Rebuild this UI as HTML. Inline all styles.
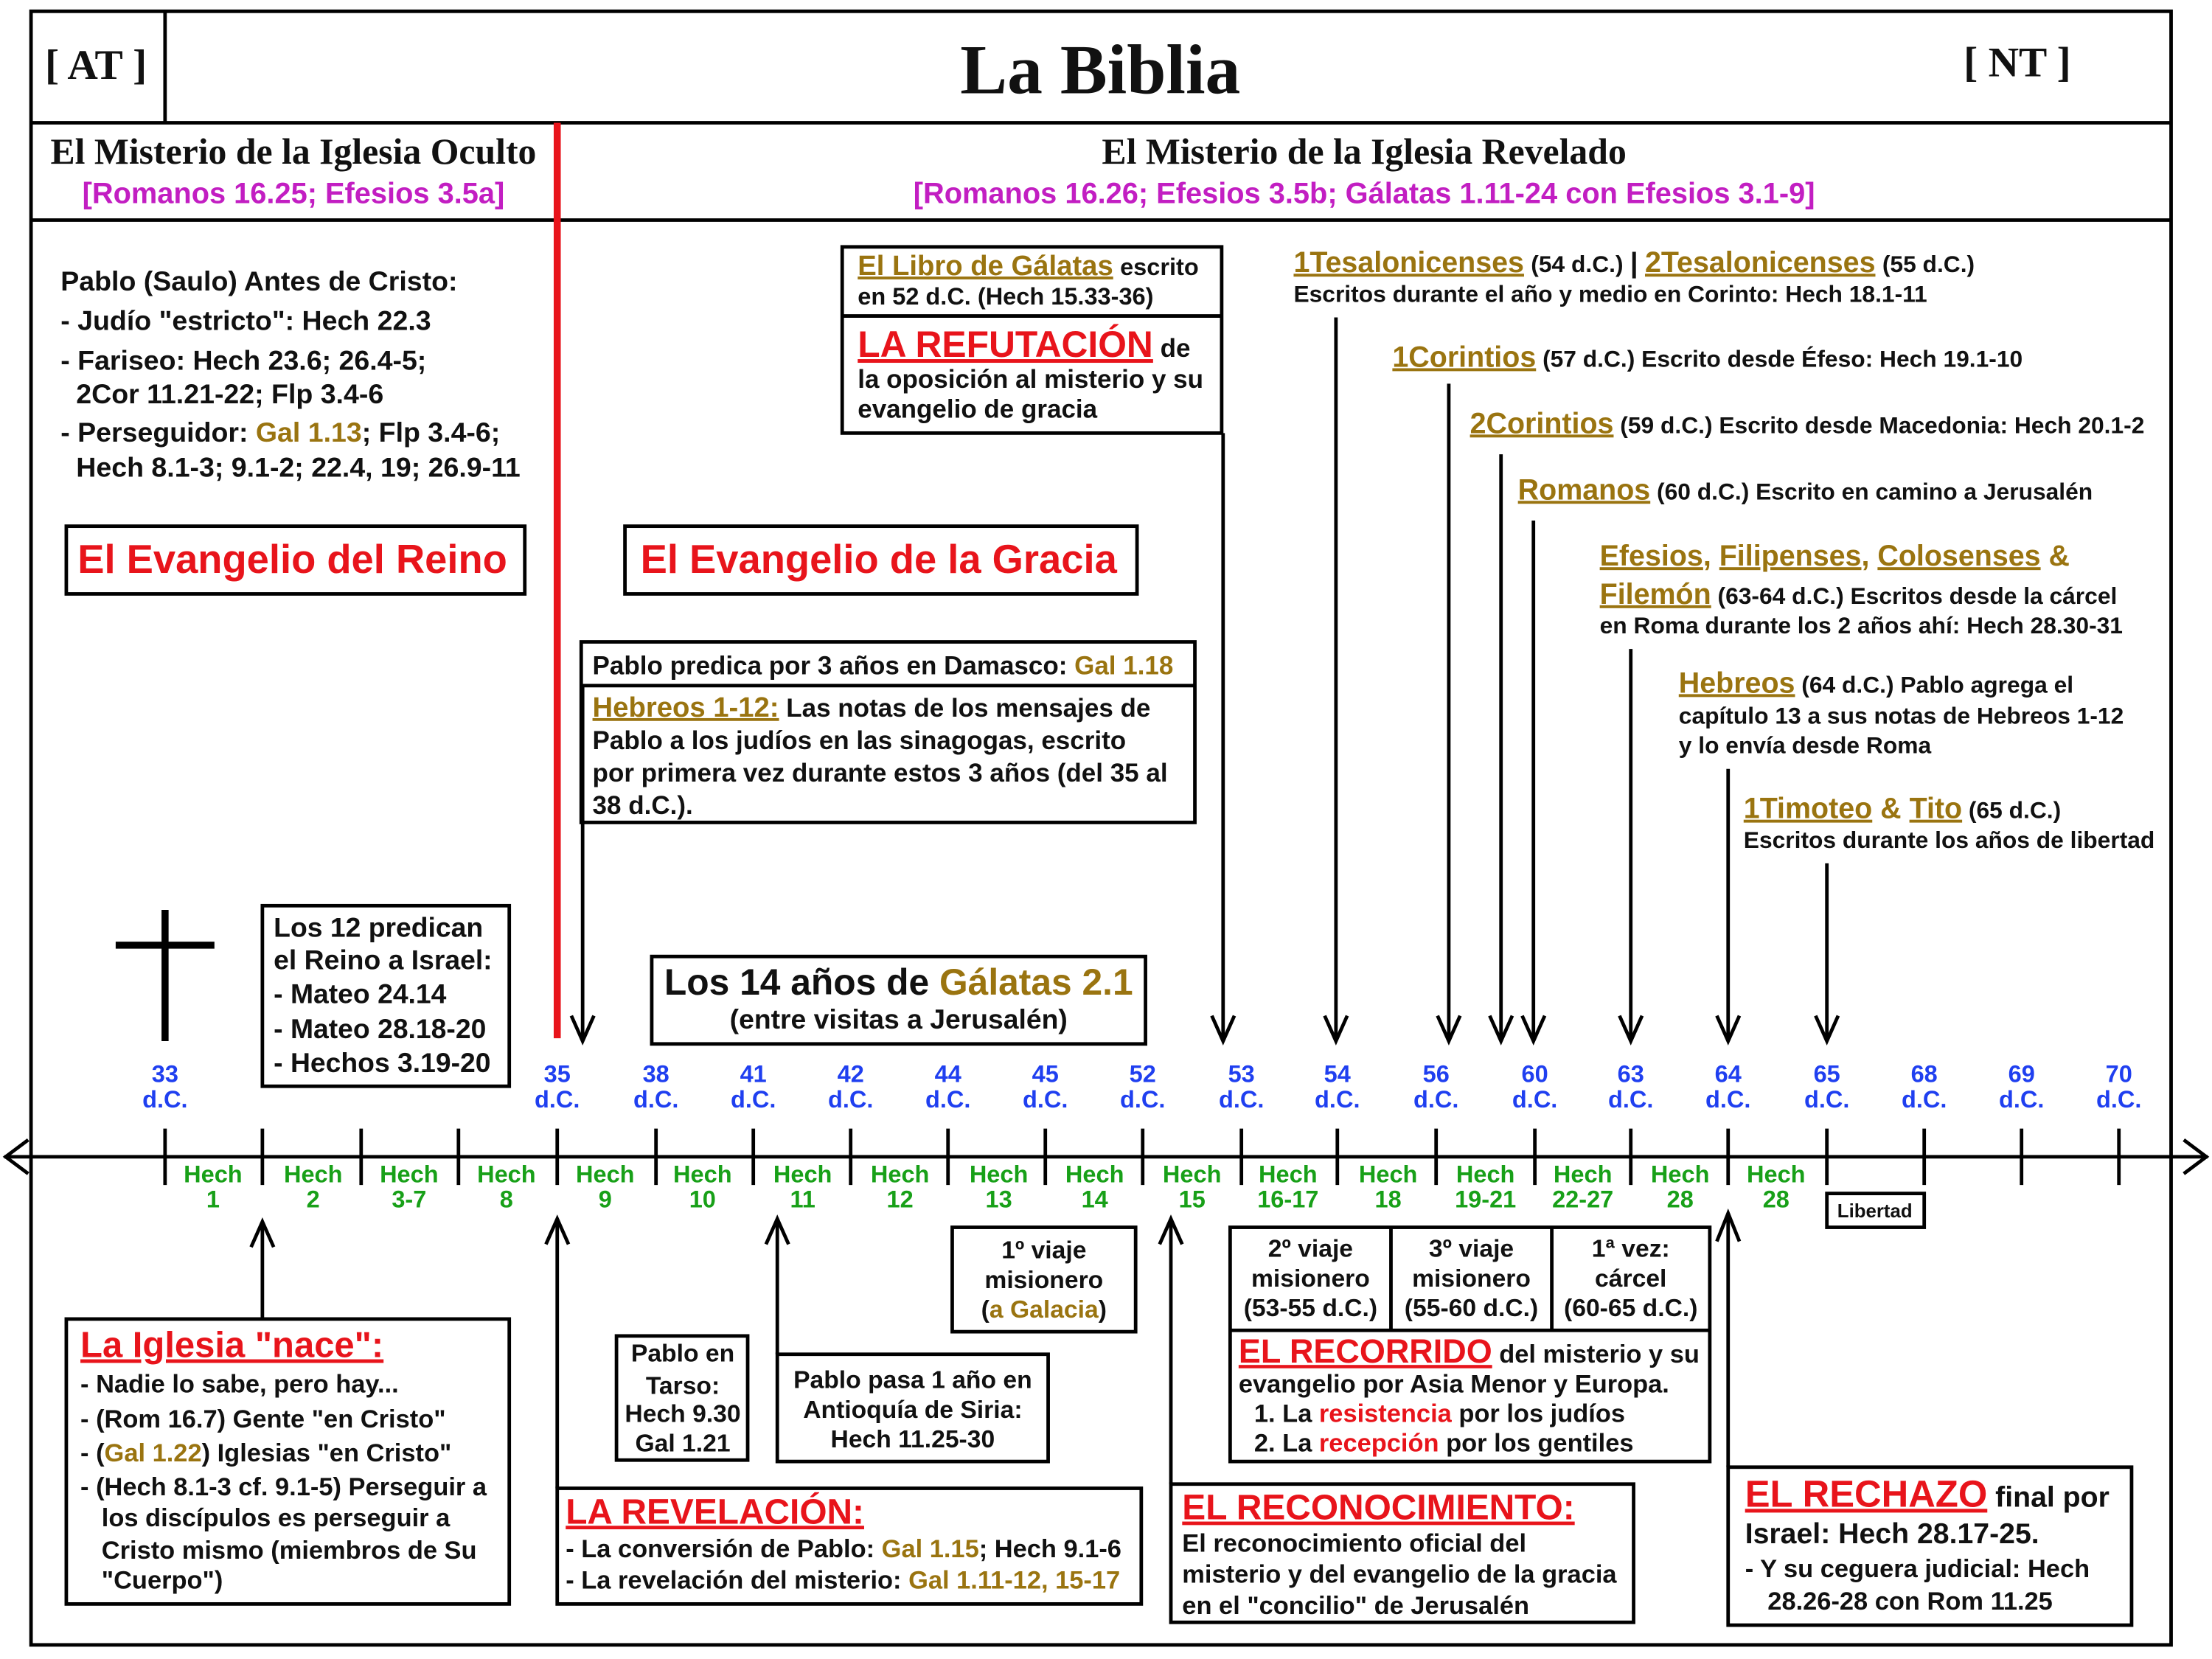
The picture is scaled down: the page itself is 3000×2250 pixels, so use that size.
<!DOCTYPE html>
<html><head><meta charset="utf-8"><style>
html,body{margin:0;padding:0;background:#fff;}
svg{display:block;}
text{font-family:"Liberation Sans",sans-serif;font-weight:bold;font-size:17.6px;fill:#111;}
.s{font-family:"Liberation Serif",serif;}
.r{fill:#e8141b;}.g{fill:#9a7410;}.m{fill:#c21ec2;}.b{fill:#1f3ff0;}.gr{fill:#18a018;}
.u{text-decoration:underline;}
.c{text-anchor:middle;}
.y{font-size:17px;}
.rt{font-size:16.6px;}
.rh{font-size:20.6px;}
.bx{font-size:18.3px;}
</style></head><body>
<svg width="3000" height="2250" viewBox="0 0 1568 1176" preserveAspectRatio="none" xmlns="http://www.w3.org/2000/svg">
<g fill="none" stroke="#000" stroke-width="2.5">
<rect x="22" y="8" width="1517" height="1158"/>
<line x1="117" y1="8" x2="117" y2="87"/>
<line x1="22" y1="87" x2="1539" y2="87"/>
<line x1="22" y1="156" x2="1539" y2="156"/>
<rect x="47" y="373" width="325" height="48"/>
<rect x="443" y="373" width="363" height="48"/>
<rect x="597" y="175" width="269" height="132"/>
<line x1="597" y1="224" x2="866" y2="224"/>
<rect x="412" y="455" width="435" height="128"/>
<line x1="412" y1="486" x2="847" y2="486"/>
<rect x="462" y="678" width="350" height="62"/>
<rect x="186" y="642" width="175" height="128"/>
<rect x="47" y="935" width="314" height="202"/>
<rect x="437" y="947" width="93" height="88"/>
<rect x="551" y="960" width="192" height="76"/>
<rect x="675" y="870" width="130" height="74"/>
<rect x="395" y="1055" width="414" height="82"/>
<rect x="830" y="1052" width="328" height="98"/>
<rect x="872" y="870" width="340" height="166"/>
<line x1="986" y1="870" x2="986" y2="943"/>
<line x1="1100" y1="870" x2="1100" y2="943"/>
<line x1="872" y1="943" x2="1212" y2="943"/>
<rect x="1225" y="1040" width="286" height="112"/>
<rect x="1295" y="846" width="69" height="24"/>
<line x1="3" y1="820" x2="1565" y2="820"/>
<polyline points="20,808 4,820 20,832"/>
<polyline points="1548,808 1564,820 1548,832"/>
<line x1="413" y1="486" x2="413" y2="738"/><polyline points="405,720 413,738 421,720"/>
<line x1="867" y1="307" x2="867" y2="738"/><polyline points="859,720 867,738 875,720"/>
<line x1="947" y1="225" x2="947" y2="738"/><polyline points="939,720 947,738 955,720"/>
<line x1="1027" y1="272" x2="1027" y2="738"/><polyline points="1019,720 1027,738 1035,720"/>
<line x1="1064" y1="322" x2="1064" y2="738"/><polyline points="1056,720 1064,738 1072,720"/>
<line x1="1087" y1="369" x2="1087" y2="738"/><polyline points="1079,720 1087,738 1095,720"/>
<line x1="1156" y1="460" x2="1156" y2="738"/><polyline points="1148,720 1156,738 1164,720"/>
<line x1="1225" y1="545" x2="1225" y2="738"/><polyline points="1217,720 1225,738 1233,720"/>
<line x1="1295" y1="612" x2="1295" y2="738"/><polyline points="1287,720 1295,738 1303,720"/>
<line x1="186" y1="866" x2="186" y2="935"/><polyline points="178,884 186,866 194,884"/>
<line x1="395" y1="864" x2="395" y2="1055"/><polyline points="387,882 395,864 403,882"/>
<line x1="551" y1="864" x2="551" y2="960"/><polyline points="543,882 551,864 559,882"/>
<line x1="830" y1="864" x2="830" y2="1052"/><polyline points="822,882 830,864 838,882"/>
<line x1="1225" y1="860" x2="1225" y2="1040"/><polyline points="1217,880 1225,860 1233,880"/>
</g>
<g stroke="#000" stroke-width="2.5">
<line x1="117" y1="800" x2="117" y2="840"/><line x1="186" y1="800" x2="186" y2="840"/><line x1="256" y1="800" x2="256" y2="840"/><line x1="325" y1="800" x2="325" y2="840"/><line x1="395" y1="800" x2="395" y2="840"/><line x1="465" y1="800" x2="465" y2="840"/><line x1="534" y1="800" x2="534" y2="840"/><line x1="603" y1="800" x2="603" y2="840"/><line x1="672" y1="800" x2="672" y2="840"/><line x1="741" y1="800" x2="741" y2="840"/><line x1="810" y1="800" x2="810" y2="840"/><line x1="880" y1="800" x2="880" y2="840"/><line x1="948" y1="800" x2="948" y2="840"/><line x1="1018" y1="800" x2="1018" y2="840"/><line x1="1088" y1="800" x2="1088" y2="840"/><line x1="1156" y1="800" x2="1156" y2="840"/><line x1="1225" y1="800" x2="1225" y2="840"/><line x1="1295" y1="800" x2="1295" y2="840"/><line x1="1364" y1="800" x2="1364" y2="840"/><line x1="1433" y1="800" x2="1433" y2="840"/><line x1="1502" y1="800" x2="1502" y2="840"/>
</g>
<line x1="395" y1="87" x2="395" y2="736" stroke="#e8141b" stroke-width="5"/>
<line x1="117" y1="645" x2="117" y2="738" stroke="#000" stroke-width="5"/>
<line x1="82" y1="670" x2="152" y2="670" stroke="#000" stroke-width="5"/>

<text class="s" x="68" y="56" text-anchor="middle" style="font-size:30px">[ AT ]</text>
<text class="s" x="780" y="66" text-anchor="middle" style="font-size:50px">La Biblia</text>
<text class="s" x="1430" y="54" text-anchor="middle" style="font-size:30px">[ NT ]</text>
<text class="s c" x="208" y="116" style="font-size:26px">El Misterio de la Iglesia Oculto</text>
<text class="m c" x="208" y="144" style="font-size:20.8px">[Romanos 16.25; Efesios 3.5a]</text>
<text class="s c" x="967" y="116" style="font-size:26px">El Misterio de la Iglesia Revelado</text>
<text class="m c" x="967" y="144" style="font-size:20.8px">[Romanos 16.26; Efesios 3.5b; Gálatas 1.11-24 con Efesios 3.1-9]</text>

<text x="43" y="206" style="font-size:19.6px">Pablo (Saulo) Antes de Cristo:</text>
<text x="43" y="234" style="font-size:19.6px">- Judío "estricto": Hech 22.3</text>
<text x="43" y="262" style="font-size:19.6px">- Fariseo: Hech 23.6; 26.4-5;</text>
<text x="54" y="286" style="font-size:19.6px">2Cor 11.21-22; Flp 3.4-6</text>
<text x="43" y="313" style="font-size:19.6px">- Perseguidor: <tspan class="g">Gal 1.13</tspan>; Flp 3.4-6;</text>
<text x="54" y="338" style="font-size:19.6px">Hech 8.1-3; 9.1-2; 22.4, 19; 26.9-11</text>
<text class="r" x="55" y="406" style="font-size:28.4px">El Evangelio del Reino</text>
<text class="r" x="454" y="406" style="font-size:28.4px">El Evangelio de la Gracia</text>

<text x="608" y="195"><tspan class="g u" style="font-size:20px">El Libro de Gálatas</tspan> <tspan style="font-size:17px">escrito</tspan></text>
<text x="608" y="216" style="font-size:17px">en 52 d.C. (Hech 15.33-36)</text>
<text x="608" y="253" class="bx"><tspan class="r u" style="font-size:26px">LA REFUTACIÓN</tspan> de</text>
<text x="608" y="275" class="bx">la oposición al misterio y su</text>
<text x="608" y="296" class="bx">evangelio de gracia</text>

<text x="420" y="478" class="bx">Pablo predica por 3 años en Damasco: <tspan class="g">Gal 1.18</tspan></text>
<text x="420" y="508" class="bx"><tspan class="g u" style="font-size:20px">Hebreos 1-12:</tspan> Las notas de los mensajes de</text>
<text x="420" y="531" class="bx">Pablo a los judíos en las sinagogas, escrito</text>
<text x="420" y="554" class="bx">por primera vez durante estos 3 años (del 35 al</text>
<text x="420" y="577" class="bx">38 d.C.).</text>

<text x="637" y="705" class="c" style="font-size:26px">Los 14 años de <tspan class="g">Gálatas 2.1</tspan></text>
<text x="637" y="729" class="c" style="font-size:19.5px">(entre visitas a Jerusalén)</text>

<text x="194" y="664" style="font-size:19.5px">Los 12 predican</text>
<text x="194" y="687" style="font-size:19.5px">el Reino a Israel:</text>
<text x="194" y="711" style="font-size:19.5px">- Mateo 24.14</text>
<text x="194" y="736" style="font-size:19.5px">- Mateo 28.18-20</text>
<text x="194" y="760" style="font-size:19.5px">- Hechos 3.19-20</text>

<text x="917" y="193"><tspan class="g u rh">1Tesalonicenses</tspan> <tspan class="rt">(54 d.C.)</tspan>  <tspan style="font-size:20px">|</tspan>  <tspan class="g u rh">2Tesalonicenses</tspan> <tspan class="rt">(55 d.C.)</tspan></text>
<text x="917" y="214" class="rt">Escritos durante el año y medio en Corinto: Hech 18.1-11</text>
<text x="987" y="260" class="rt"><tspan class="g u rh">1Corintios</tspan> (57 d.C.) Escrito desde Éfeso: Hech 19.1-10</text>
<text x="1042" y="307" class="rt"><tspan class="g u rh">2Corintios</tspan> (59 d.C.) Escrito desde Macedonia: Hech 20.1-2</text>
<text x="1076" y="354" class="rt"><tspan class="g u rh">Romanos</tspan> (60 d.C.) Escrito en camino a Jerusalén</text>
<text x="1134" y="401" class="rh"><tspan class="g u">Efesios</tspan><tspan class="g">, </tspan><tspan class="g u">Filipenses</tspan><tspan class="g">, </tspan><tspan class="g u">Colosenses</tspan><tspan class="g"> &amp;</tspan></text>
<text x="1134" y="428" class="rt"><tspan class="g u rh">Filemón</tspan> (63-64 d.C.) Escritos desde la cárcel</text>
<text x="1134" y="449" class="rt">en Roma durante los 2 años ahí: Hech 28.30-31</text>
<text x="1190" y="491" class="rt"><tspan class="g u rh">Hebreos</tspan> (64 d.C.) Pablo agrega el</text>
<text x="1190" y="513" class="rt">capítulo 13 a sus notas de Hebreos 1-12</text>
<text x="1190" y="534" class="rt">y lo envía desde Roma</text>
<text x="1236" y="580" class="rt"><tspan class="g u rh">1Timoteo</tspan><tspan class="g rh"> &amp; </tspan><tspan class="g u rh">Tito</tspan> (65 d.C.)</text>
<text x="1236" y="601" class="rt">Escritos durante los años de libertad</text>

<text class="b c y" x="117" y="767">33</text><text class="b c y" x="117" y="785">d.C.</text>
<text class="b c y" x="395" y="767">35</text><text class="b c y" x="395" y="785">d.C.</text>
<text class="b c y" x="465" y="767">38</text><text class="b c y" x="465" y="785">d.C.</text>
<text class="b c y" x="534" y="767">41</text><text class="b c y" x="534" y="785">d.C.</text>
<text class="b c y" x="603" y="767">42</text><text class="b c y" x="603" y="785">d.C.</text>
<text class="b c y" x="672" y="767">44</text><text class="b c y" x="672" y="785">d.C.</text>
<text class="b c y" x="741" y="767">45</text><text class="b c y" x="741" y="785">d.C.</text>
<text class="b c y" x="810" y="767">52</text><text class="b c y" x="810" y="785">d.C.</text>
<text class="b c y" x="880" y="767">53</text><text class="b c y" x="880" y="785">d.C.</text>
<text class="b c y" x="948" y="767">54</text><text class="b c y" x="948" y="785">d.C.</text>
<text class="b c y" x="1018" y="767">56</text><text class="b c y" x="1018" y="785">d.C.</text>
<text class="b c y" x="1088" y="767">60</text><text class="b c y" x="1088" y="785">d.C.</text>
<text class="b c y" x="1156" y="767">63</text><text class="b c y" x="1156" y="785">d.C.</text>
<text class="b c y" x="1225" y="767">64</text><text class="b c y" x="1225" y="785">d.C.</text>
<text class="b c y" x="1295" y="767">65</text><text class="b c y" x="1295" y="785">d.C.</text>
<text class="b c y" x="1364" y="767">68</text><text class="b c y" x="1364" y="785">d.C.</text>
<text class="b c y" x="1433" y="767">69</text><text class="b c y" x="1433" y="785">d.C.</text>
<text class="b c y" x="1502" y="767">70</text><text class="b c y" x="1502" y="785">d.C.</text>

<text class="gr c y" x="151" y="838">Hech</text><text class="gr c y" x="151" y="856">1</text>
<text class="gr c y" x="222" y="838">Hech</text><text class="gr c y" x="222" y="856">2</text>
<text class="gr c y" x="290" y="838">Hech</text><text class="gr c y" x="290" y="856">3-7</text>
<text class="gr c y" x="359" y="838">Hech</text><text class="gr c y" x="359" y="856">8</text>
<text class="gr c y" x="429" y="838">Hech</text><text class="gr c y" x="429" y="856">9</text>
<text class="gr c y" x="498" y="838">Hech</text><text class="gr c y" x="498" y="856">10</text>
<text class="gr c y" x="569" y="838">Hech</text><text class="gr c y" x="569" y="856">11</text>
<text class="gr c y" x="638" y="838">Hech</text><text class="gr c y" x="638" y="856">12</text>
<text class="gr c y" x="708" y="838">Hech</text><text class="gr c y" x="708" y="856">13</text>
<text class="gr c y" x="776" y="838">Hech</text><text class="gr c y" x="776" y="856">14</text>
<text class="gr c y" x="845" y="838">Hech</text><text class="gr c y" x="845" y="856">15</text>
<text class="gr c y" x="913" y="838">Hech</text><text class="gr c y" x="913" y="856">16-17</text>
<text class="gr c y" x="984" y="838">Hech</text><text class="gr c y" x="984" y="856">18</text>
<text class="gr c y" x="1053" y="838">Hech</text><text class="gr c y" x="1053" y="856">19-21</text>
<text class="gr c y" x="1122" y="838">Hech</text><text class="gr c y" x="1122" y="856">22-27</text>
<text class="gr c y" x="1191" y="838">Hech</text><text class="gr c y" x="1191" y="856">28</text>
<text class="gr c y" x="1259" y="838">Hech</text><text class="gr c y" x="1259" y="856">28</text>
<text class="c" x="1329" y="863" style="font-size:13.5px">Libertad</text>

<text x="57" y="962" class="r u" style="font-size:25.6px">La Iglesia "nace":</text>
<text x="57" y="987" style="font-size:18px">- Nadie lo sabe, pero hay...</text>
<text x="57" y="1012" style="font-size:18px">- (Rom 16.7) Gente "en Cristo"</text>
<text x="57" y="1036" style="font-size:18px">- (<tspan class="g">Gal 1.22</tspan>) Iglesias "en Cristo"</text>
<text x="57" y="1060" style="font-size:18px">- (Hech 8.1-3 cf. 9.1-5) Perseguir a</text>
<text x="72" y="1082" style="font-size:18px">los discípulos es perseguir a</text>
<text x="72" y="1105" style="font-size:18px">Cristo mismo (miembros de Su</text>
<text x="72" y="1126" style="font-size:18px">"Cuerpo")</text>

<text class="c" x="484" y="965">Pablo en</text>
<text class="c" x="484" y="988">Tarso:</text>
<text class="c" x="484" y="1008">Hech 9.30</text>
<text class="c" x="484" y="1029">Gal 1.21</text>

<text class="c" x="647" y="984">Pablo pasa 1 año en</text>
<text class="c" x="647" y="1005">Antioquía de Siria:</text>
<text class="c" x="647" y="1026">Hech 11.25-30</text>

<text class="c" x="740" y="892">1º viaje</text>
<text class="c" x="740" y="913">misionero</text>
<text class="c" x="740" y="934">(<tspan class="g">a Galacia</tspan>)</text>

<text x="401" y="1080" class="r u" style="font-size:25px">LA REVELACIÓN:</text>
<text x="401" y="1104" style="font-size:18px">- La conversión de Pablo: <tspan class="g">Gal 1.15</tspan>; Hech 9.1-6</text>
<text x="401" y="1126" style="font-size:18px">- La revelación del misterio: <tspan class="g">Gal 1.11-12, 15-17</tspan></text>

<text class="c" x="929" y="891">2º viaje</text>
<text class="c" x="929" y="912">misionero</text>
<text class="c" x="929" y="933">(53-55 d.C.)</text>
<text class="c" x="1043" y="891">3º viaje</text>
<text class="c" x="1043" y="912">misionero</text>
<text class="c" x="1043" y="933">(55-60 d.C.)</text>
<text class="c" x="1156" y="891">1ª vez:</text>
<text class="c" x="1156" y="912">cárcel</text>
<text class="c" x="1156" y="933">(60-65 d.C.)</text>
<text x="878" y="966" style="font-size:18px"><tspan class="r u" style="font-size:23.5px">EL RECORRIDO</tspan> del misterio y su</text>
<text x="878" y="987" style="font-size:18px">evangelio por Asia Menor y Europa.</text>
<text x="889" y="1008" style="font-size:18px">1. La <tspan class="r">resistencia</tspan> por los judíos</text>
<text x="889" y="1029" style="font-size:18px">2. La <tspan class="r">recepción</tspan> por los gentiles</text>

<text x="838" y="1077" class="r u" style="font-size:25px">EL RECONOCIMIENTO:</text>
<text x="838" y="1100" style="font-size:18px">El reconocimiento oficial del</text>
<text x="838" y="1122" style="font-size:18px">misterio y del evangelio de la gracia</text>
<text x="838" y="1144" style="font-size:18px">en el "concilio" de Jerusalén</text>

<text x="1237" y="1068" style="font-size:20.5px"><tspan class="r u" style="font-size:26.5px">EL RECHAZO</tspan> final por</text>
<text x="1237" y="1094" style="font-size:20.5px">Israel: Hech 28.17-25.</text>
<text x="1237" y="1118" style="font-size:18px">- Y su ceguera judicial: Hech</text>
<text x="1253" y="1141" style="font-size:18px">28.26-28 con Rom 11.25</text>
</svg>
</body></html>
